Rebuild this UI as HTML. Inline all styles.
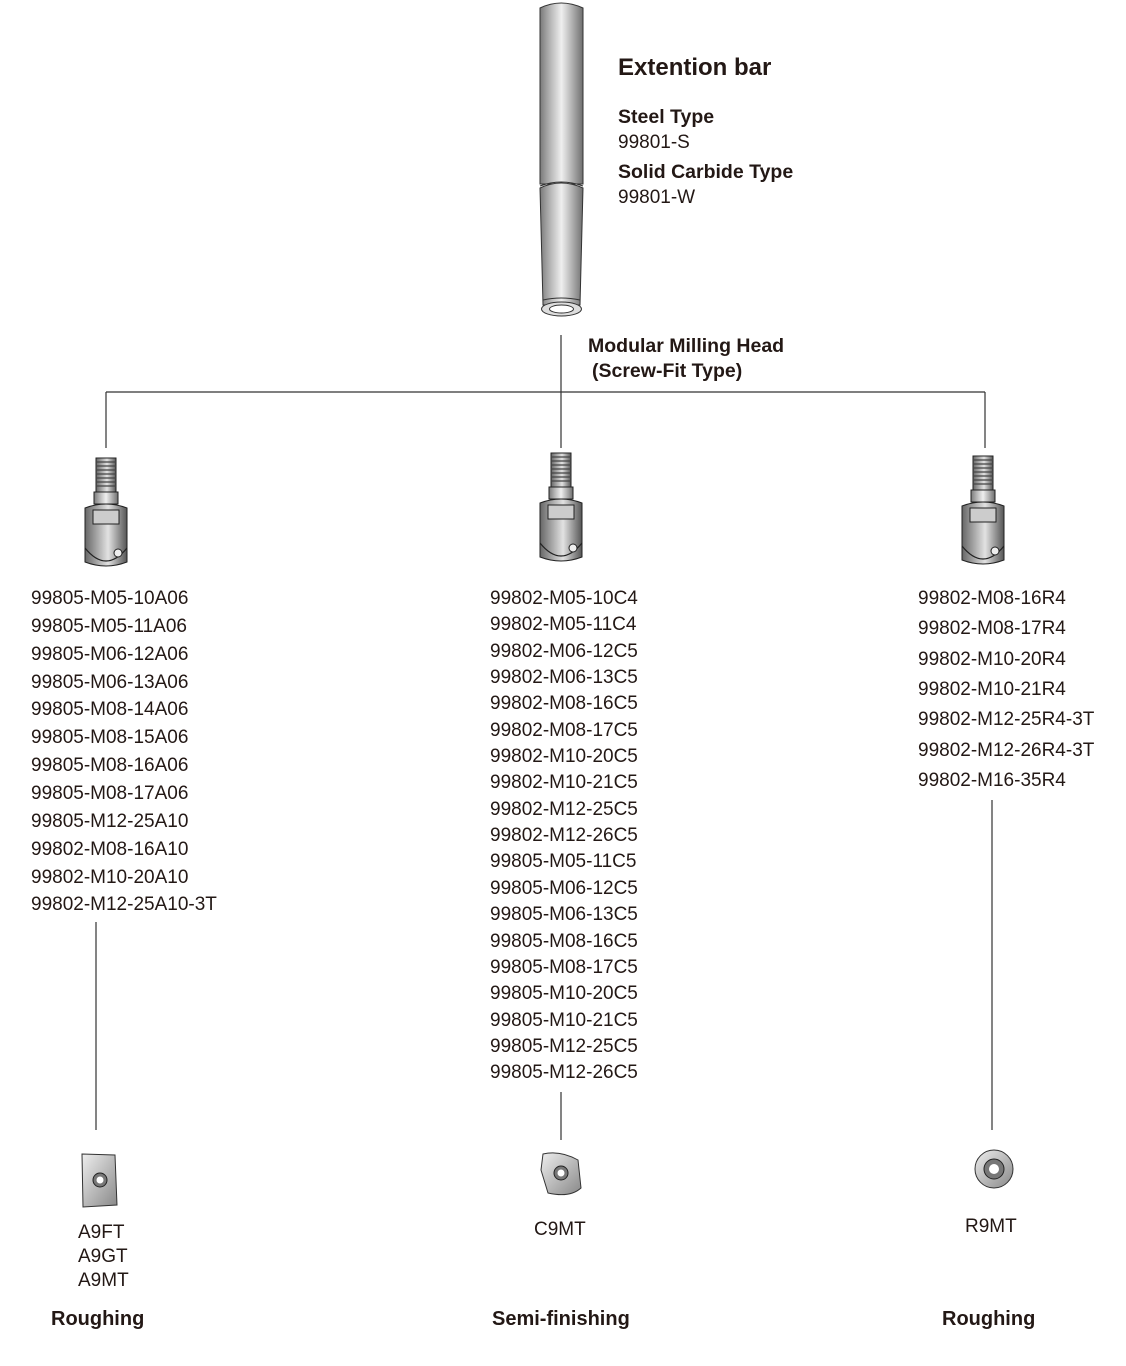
<!DOCTYPE html>
<html><head><meta charset="utf-8"><style>
html,body{margin:0;padding:0;background:#fff;}
svg{display:block;}
text{font-family:"Liberation Sans",Arial,sans-serif;fill:#231815;}
.b{font-weight:bold;}
</style></head><body>
<svg width="1126" height="1366" viewBox="0 0 1126 1366" xmlns="http://www.w3.org/2000/svg">
<defs>
<linearGradient id="cyl" x1="0" x2="1" y1="0" y2="0">
<stop offset="0" stop-color="#7a7a7a"/><stop offset="0.25" stop-color="#b8b8b8"/><stop offset="0.5" stop-color="#efefef"/><stop offset="0.75" stop-color="#b0b0b0"/><stop offset="1" stop-color="#6e6e6e"/>
</linearGradient>
<linearGradient id="dk" x1="0" x2="1" y1="0" y2="0">
<stop offset="0" stop-color="#666"/><stop offset="0.35" stop-color="#b5b5b5"/><stop offset="0.55" stop-color="#e2e2e2"/><stop offset="1" stop-color="#555"/>
</linearGradient>
<linearGradient id="ins" x1="0" x2="1" y1="0" y2="1">
<stop offset="0" stop-color="#eee"/><stop offset="1" stop-color="#888"/>
</linearGradient>
<g id="head">
<rect x="-10" y="0" width="20" height="34" fill="url(#dk)" stroke="#222" stroke-width="1"/>
<path d="M-10 4h20M-10 8h20M-10 12h20M-10 16h20M-10 20h20M-10 24h20M-10 28h20" stroke="#444" stroke-width="1.2"/>
<rect x="-12" y="34" width="24" height="12" fill="url(#cyl)" stroke="#222"/>
<path d="M-21 50 Q0 42 21 50 L21 104 Q0 112 -21 104Z" fill="url(#dk)" stroke="#222"/>
<rect x="-13" y="52" width="26" height="14" fill="#ccc" stroke="#222"/>
<path d="M-21 90 Q0 116 21 90" fill="none" stroke="#222" stroke-width="1.2"/>
<circle cx="12" cy="95" r="4" fill="#eee" stroke="#222"/>
</g>
</defs>

<path d="M540 8 Q561 -2 583 8 L583 184 L540 184 Z" fill="url(#cyl)" stroke="#333" stroke-width="1"/>
<path d="M540 188 Q561 178 583 188 L580 305 L543 305 Z" fill="url(#cyl)" stroke="#333" stroke-width="1"/>
<path d="M540 186 Q561 178 583 186" fill="none" stroke="#333"/>
<path d="M543 300 Q561 296 580 300" fill="none" stroke="#333"/>
<ellipse cx="561.5" cy="309" rx="20" ry="7" fill="#ddd" stroke="#333"/>
<ellipse cx="561.5" cy="309" rx="12" ry="4" fill="#fff" stroke="#333"/>

<text x="618" y="75" font-size="24" class="b">Extention bar</text>
<text x="618" y="123" font-size="19.5" class="b">Steel Type</text>
<text x="618" y="148" font-size="19">99801-S</text>
<text x="618" y="178" font-size="19.5" class="b">Solid Carbide Type</text>
<text x="618" y="203" font-size="19">99801-W</text>
<text x="588" y="352" font-size="19.5" class="b">Modular Milling Head</text>
<text x="592" y="377" font-size="19.5" class="b">(Screw-Fit Type)</text>

<g stroke="#333" stroke-width="1.2" fill="none">
<path d="M561 335V448M106 392H985M106 392V448M985 392V448"/>
<path d="M96 922V1130M561 1092V1140M992 800V1130"/>
</g>

<use href="#head" x="106" y="458"/>
<use href="#head" x="561" y="453"/>
<use href="#head" x="983" y="456"/>

<g font-size="19">
<text x="31" y="604">99805-M05-10A06</text>
<text x="31" y="632">99805-M05-11A06</text>
<text x="31" y="660">99805-M06-12A06</text>
<text x="31" y="688">99805-M06-13A06</text>
<text x="31" y="715">99805-M08-14A06</text>
<text x="31" y="743">99805-M08-15A06</text>
<text x="31" y="771">99805-M08-16A06</text>
<text x="31" y="799">99805-M08-17A06</text>
<text x="31" y="827">99805-M12-25A10</text>
<text x="31" y="855">99802-M08-16A10</text>
<text x="31" y="883">99802-M10-20A10</text>
<text x="31" y="910">99802-M12-25A10-3T</text>

<text x="490" y="604">99802-M05-10C4</text>
<text x="490" y="630">99802-M05-11C4</text>
<text x="490" y="657">99802-M06-12C5</text>
<text x="490" y="683">99802-M06-13C5</text>
<text x="490" y="709">99802-M08-16C5</text>
<text x="490" y="736">99802-M08-17C5</text>
<text x="490" y="762">99802-M10-20C5</text>
<text x="490" y="788">99802-M10-21C5</text>
<text x="490" y="815">99802-M12-25C5</text>
<text x="490" y="841">99802-M12-26C5</text>
<text x="490" y="867">99805-M05-11C5</text>
<text x="490" y="894">99805-M06-12C5</text>
<text x="490" y="920">99805-M06-13C5</text>
<text x="490" y="947">99805-M08-16C5</text>
<text x="490" y="973">99805-M08-17C5</text>
<text x="490" y="999">99805-M10-20C5</text>
<text x="490" y="1026">99805-M10-21C5</text>
<text x="490" y="1052">99805-M12-25C5</text>
<text x="490" y="1078">99805-M12-26C5</text>

<text x="918" y="604">99802-M08-16R4</text>
<text x="918" y="634">99802-M08-17R4</text>
<text x="918" y="665">99802-M10-20R4</text>
<text x="918" y="695">99802-M10-21R4</text>
<text x="918" y="725">99802-M12-25R4-3T</text>
<text x="918" y="756">99802-M12-26R4-3T</text>
<text x="918" y="786">99802-M16-35R4</text>

<text x="78" y="1238">A9FT</text>
<text x="78" y="1262">A9GT</text>
<text x="78" y="1286">A9MT</text>
<text x="534" y="1235">C9MT</text>
<text x="965" y="1232">R9MT</text>
</g>

<path d="M82 1154 L115 1155 L117 1205 L83 1207 Z" fill="url(#ins)" stroke="#333"/>
<circle cx="100" cy="1180" r="7" fill="#777" stroke="#222"/><circle cx="100" cy="1180" r="3.5" fill="#fff"/>
<path d="M543 1154 Q560 1150 578 1160 L581 1188 Q570 1198 548 1193 L541 1170 Z" fill="url(#ins)" stroke="#333"/>
<circle cx="561" cy="1173" r="7" fill="#777" stroke="#222"/><circle cx="561" cy="1173" r="3.5" fill="#fff"/>
<circle cx="994" cy="1169" r="19" fill="url(#ins)" stroke="#333"/>
<circle cx="994" cy="1169" r="10" fill="#777" stroke="#222"/><circle cx="994" cy="1169" r="5" fill="#fff"/>

<text x="51" y="1325" font-size="20" class="b">Roughing</text>
<text x="492" y="1325" font-size="20" class="b">Semi-finishing</text>
<text x="942" y="1325" font-size="20" class="b">Roughing</text>
</svg>
</body></html>
